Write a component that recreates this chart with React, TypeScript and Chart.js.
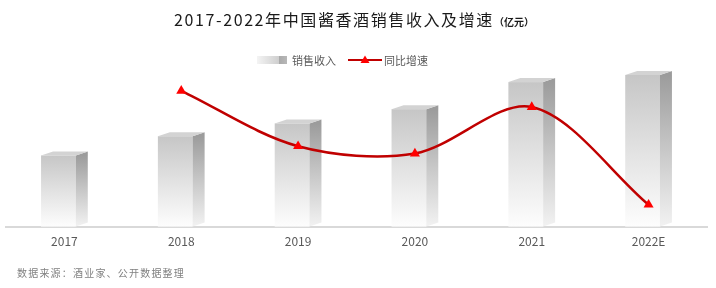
import React, { useEffect, useRef } from "react";
import { Chart, registerables } from "chart.js";

Chart.register(...registerables);

const categories = ["2017", "2018", "2019", "2020", "2021", "2022E"];
const revenue = [1000, 1270, 1450, 1650, 2030, 2130];
const growth = [null, 26.0, 15.4, 14.0, 22.9, 4.2];

const FONT = "'Noto Sans CJK SC', 'Noto Sans', sans-serif";

const bars3d = {
  id: "bars3d",
  afterDatasetDraw(chart: any, args: any) {
    if (args.index !== 0) return;
    const ctx = chart.ctx;
    const dx = 12;
    const dy = 4;
    ctx.save();
    args.meta.data.forEach((bar: any) => {
      const { x, y, base, width } = bar.getProps(["x", "y", "base", "width"], true);
      const left = x - width / 2;
      const fr = left + width - dx;
      const gf = ctx.createLinearGradient(0, y, 0, base);
      gf.addColorStop(0, "#c6c6c6");
      gf.addColorStop(0.5, "#e2e2e2");
      gf.addColorStop(1, "#fdfdfd");
      ctx.fillStyle = gf;
      ctx.fillRect(left, y, fr - left, base - y);
      const gs = ctx.createLinearGradient(0, y, 0, base);
      gs.addColorStop(0, "#9c9c9c");
      gs.addColorStop(0.5, "#c8c8c8");
      gs.addColorStop(1, "#f2f2f2");
      ctx.fillStyle = gs;
      ctx.beginPath();
      ctx.moveTo(fr, y);
      ctx.lineTo(fr + dx, y - dy);
      ctx.lineTo(fr + dx, base - dy);
      ctx.lineTo(fr, base);
      ctx.closePath();
      ctx.fill();
      ctx.fillStyle = "#d3d3d3";
      ctx.beginPath();
      ctx.moveTo(left, y);
      ctx.lineTo(fr, y);
      ctx.lineTo(fr + dx, y - dy);
      ctx.lineTo(left + dx, y - dy);
      ctx.closePath();
      ctx.fill();
    });
    ctx.restore();
  },
};

export default function App() {
  const ref = useRef<HTMLCanvasElement | null>(null);

  useEffect(() => {
    document.body.style.margin = "0";
    const canvas = ref.current;
    if (!canvas) return;
    const chart = new Chart(canvas, {
      data: {
        labels: categories,
        datasets: [
          {
            type: "bar",
            label: "销售收入",
            data: revenue,
            yAxisID: "y",
            backgroundColor: "rgba(0,0,0,0)",
            borderWidth: 0,
            categoryPercentage: 1,
            barPercentage: 0.4,
            order: 2,
          },
          {
            type: "line",
            label: "同比增速",
            data: growth,
            yAxisID: "y1",
            borderColor: "#C00000",
            borderWidth: 2.5,
            tension: 0.32,
            pointStyle: "triangle",
            pointRadius: 5.8,
            pointBackgroundColor: "#FF0000",
            pointBorderColor: "#FF0000",
            pointBorderWidth: 0,
            spanGaps: true,
            clip: false,
            order: 1,
          },
        ],
      } as any,
      options: {
        responsive: false,
        animation: false,
        layout: { padding: { top: 70, bottom: 31, left: 6, right: 9 } },
        plugins: {
          legend: { display: false },
          title: { display: false },
          tooltip: { enabled: false },
        },
        scales: {
          x: {
            grid: { display: false, drawTicks: false },
            border: { display: true, color: "#d9d9d9", width: 2 },
            ticks: { color: "#595959", font: { family: FONT, size: 12 }, padding: 8 },
          },
          y: { display: false, min: 0, max: 2200 },
          y1: { display: false, min: 0, max: 30, position: "right" },
        },
      } as any,
      plugins: [bars3d],
    });
    return () => chart.destroy();
  }, []);

  return (
    <div
      style={{
        position: "relative",
        width: 716,
        height: 288,
        background: "#ffffff",
        fontFamily: FONT,
        overflow: "hidden",
      }}
    >
      <canvas
        ref={ref}
        width={716}
        height={288}
        style={{ position: "absolute", left: 0, top: 0, width: 716, height: 288 }}
      />
      <div
        style={{
          position: "absolute",
          left: 0,
          top: 8,
          width: 708,
          textAlign: "center",
          fontSize: 16,
          lineHeight: "22px",
          color: "#1a1a1a",
          letterSpacing: 1.6,
          whiteSpace: "nowrap",
        }}
      >
        2017-2022年中国酱香酒销售收入及增速
        <span style={{ fontSize: 10, fontWeight: 700, letterSpacing: 0 }}>（亿元）</span>
      </div>
      <div
        style={{
          position: "absolute",
          left: 257,
          top: 51,
          height: 18,
          display: "flex",
          alignItems: "center",
          fontSize: 11,
          color: "#595959",
          whiteSpace: "nowrap",
        }}
      >
        <span
          style={{
            display: "inline-block",
            width: 30,
            height: 8,
            background:
              "linear-gradient(to right, #f4f4f4 0%, #cfcfcf 72%, #a9a9a9 72%, #b8b8b8 100%)",
          }}
        />
        <span style={{ marginLeft: 5 }}>销售收入</span>
        <svg width="34" height="12" style={{ marginLeft: 12 }}>
          <line x1="0" y1="6" x2="34" y2="6" stroke="#C00000" strokeWidth="2" />
          <polygon points="17,1.5 21.5,9 12.5,9" fill="#FF0000" />
        </svg>
        <span style={{ marginLeft: 2 }}>同比增速</span>
      </div>
      <div
        style={{
          position: "absolute",
          left: 17,
          top: 265,
          fontSize: 10,
          lineHeight: "16px",
          letterSpacing: 1.2,
          color: "#808080",
          whiteSpace: "nowrap",
        }}
      >
        数据来源：酒业家、公开数据整理
      </div>
    </div>
  );
}
